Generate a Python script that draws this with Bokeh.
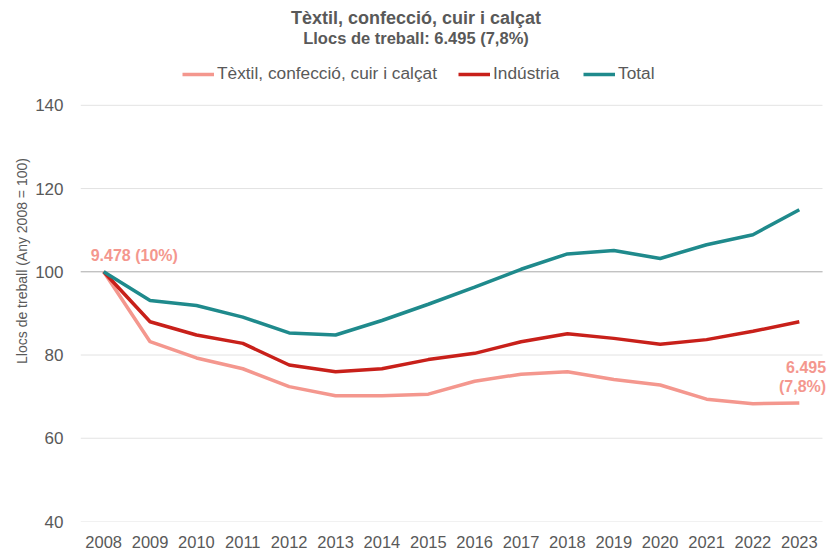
from bokeh.plotting import figure
from bokeh.models import Legend, LegendItem, Label, FixedTicker, ColumnDataSource
from bokeh.embed import file_html
from bokeh.resources import INLINE

years = list(range(2008, 2024))
textil = [100, 83.2, 79.3, 76.7, 72.4, 70.2, 70.2, 70.6, 73.7, 75.4, 76.0, 74.1, 72.8, 69.4, 68.3, 68.5]
industria = [100, 88.0, 84.8, 82.8, 77.6, 76.0, 76.7, 78.9, 80.4, 83.2, 85.1, 84.0, 82.6, 83.7, 85.7, 88.0]
total = [100, 93.1, 91.9, 89.1, 85.3, 84.8, 88.3, 92.2, 96.3, 100.6, 104.3, 105.1, 103.2, 106.5, 108.9, 114.9]
series_names = ["Tèxtil, confecció, cuir i calçat", "Indústria", "Total"]
y_ticks = [40, 60, 80, 100, 120, 140]
title_text = "Tèxtil, confecció, cuir i calçat"
subtitle_text = "Llocs de treball: 6.495 (7,8%)"
start_label = "9.478 (10%)"
end_label_1 = "6.495"
end_label_2 = "(7,8%)"

FONT = "Liberation Sans"
GRAY = "#595959"
C_TEX = "#F4978E"
C_IND = "#C8201A"
C_TOT = "#1F8A8C"

W, H = 831, 550
L, B = 80, 28
GRID_LEFT, GRID_RIGHT, GRID_TOP = 80, 822, 105   # pixel box of the gridded area
frame_w, frame_h = W - L, H - B
y_lo, y_hi = y_ticks[0], y_ticks[-1]
x_lo = years[0] - 0.5
x_hi_grid = years[-1] + 0.5
px_per_year = (GRID_RIGHT - GRID_LEFT) / (x_hi_grid - x_lo)
px_per_unit = (frame_h - GRID_TOP) / (y_hi - y_lo)

p = figure(width=W, height=H, output_backend="svg", toolbar_location=None,
           x_range=(x_lo, x_lo + frame_w / px_per_year),
           y_range=(y_lo, y_lo + frame_h / px_per_unit),
           min_border_left=L, min_border_right=0, min_border_top=0, min_border_bottom=B)
p.title = None
p.outline_line_color = None
p.background_fill_color = "white"
p.border_fill_color = "white"

p.xaxis.ticker = FixedTicker(ticks=years)
p.yaxis.ticker = FixedTicker(ticks=y_ticks)
for ax in (p.xaxis, p.yaxis):
    ax.axis_line_color = None
    ax.major_tick_line_color = None
    ax.minor_tick_line_color = None
    ax.major_label_text_font = FONT
    ax.major_label_text_color = GRAY
p.xaxis.major_label_text_font_size = "16.5px"
p.yaxis.major_label_text_font_size = "17px"
p.xaxis.major_label_standoff = 8
p.yaxis.major_label_standoff = 11
p.yaxis.axis_label = "Llocs de treball (Any 2008 = 100)"
p.yaxis.axis_label_text_font = FONT
p.yaxis.axis_label_text_font_size = "14px"
p.yaxis.axis_label_text_font_style = "normal"
p.yaxis.axis_label_text_color = GRAY
p.yaxis.axis_label_standoff = 2
p.xgrid.grid_line_color = None
p.ygrid.grid_line_color = None

# horizontal gridlines limited to the plotted years span
p.segment(x0=[x_lo] * len(y_ticks), x1=[x_hi_grid] * len(y_ticks), y0=y_ticks, y1=y_ticks,
          line_color="#E3E3E3", line_width=1)
p.segment(x0=[x_lo], x1=[x_hi_grid], y0=[100], y1=[100], line_color="#B3B3B3", line_width=1)

src = ColumnDataSource(dict(x=years, tex=textil, ind=industria, tot=total))
r_tex = p.line("x", "tex", source=src, line_color=C_TEX, line_width=3.5)
r_ind = p.line("x", "ind", source=src, line_color=C_IND, line_width=3.5)
r_tot = p.line("x", "tot", source=src, line_color=C_TOT, line_width=3.5)

def lab(**kw):
    base = dict(text_font=FONT, text_font_size="16px", text_font_style="bold", text_color=C_TEX,
                text_baseline="middle")
    base.update(kw)
    p.add_layout(Label(**base))

lab(x=years[0], y=textil[0], text=start_label, text_align="left", x_offset=-13, y_offset=16.5)
lab(x=years[-1], y=textil[-1], text=end_label_1, text_align="right", x_offset=26.8, y_offset=35.4)
lab(x=years[-1], y=textil[-1], text=end_label_2, text_align="right", x_offset=26.8, y_offset=16.4)

lab(x=W / 2 - L, y=frame_h - 18, x_units="screen", y_units="screen", text=title_text,
    text_align="center", text_font_size="18px", text_color=GRAY)
lab(x=W / 2 - L, y=frame_h - 38.2, x_units="screen", y_units="screen", text=subtitle_text,
    text_align="center", text_font_size="16.5px", text_color=GRAY)

# one legend entry per box so each sits where the reference shows it
legend_x = [182, 458, 583]
for name, rend, lx in zip(series_names, [r_tex, r_ind, r_tot], legend_x):
    lg = Legend(items=[LegendItem(label=name, renderers=[rend])],
                orientation="horizontal", location=(lx - L, frame_h - 85),
                label_text_font=FONT, label_text_font_size="17.3px", label_text_color=GRAY,
                glyph_width=32, glyph_height=20, spacing=0, label_standoff=3,
                border_line_color=None, background_fill_alpha=0,
                padding=0, margin=0)
    p.add_layout(lg)

open("out.html", "w").write(file_html(p, INLINE))
